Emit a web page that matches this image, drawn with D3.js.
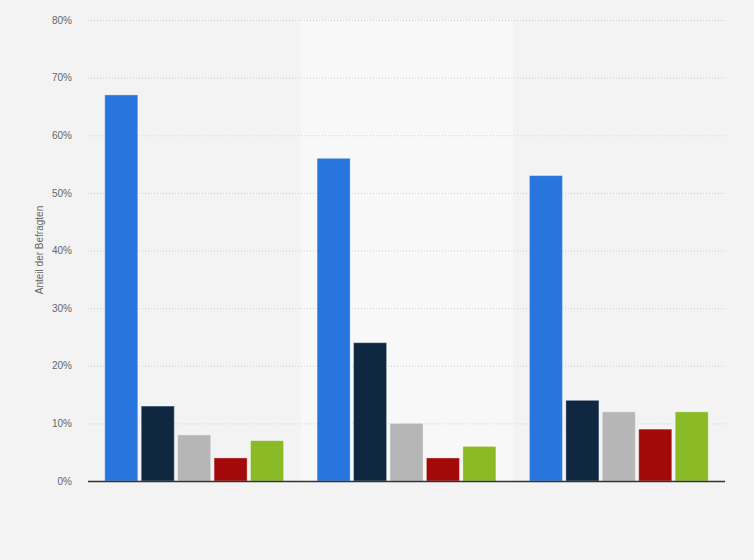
<!DOCTYPE html>
<html><head><meta charset="utf-8">
<script src="https://cdn.jsdelivr.net/npm/d3@7"></script>
<style>body{margin:0;background:#f3f3f3;}svg{display:block;font-family:"Liberation Sans",Arial,sans-serif;}</style>
</head><body>
<svg id="c" width="754" height="560"></svg>
<script>
const groups = ["G1", "G2", "G3"];
const seriesNames = ["S1", "S2", "S3", "S4", "S5"];
const seriesColors = ["#2876dd", "#0f2741", "#b6b6b6", "#a20a0a", "#8aba25"];
const values = [
  [67, 13, 8, 4, 7],
  [56, 24, 10, 4, 6],
  [53, 14, 12, 9, 12]
];
const yTicks = [0, 10, 20, 30, 40, 50, 60, 70, 80];
const yTitle = "Anteil der Befragten";

const svg = d3.select("#c");
const m = {left: 88, right: 29, top: 20, bottom: 79};
const W = 754, H = 560;
const iw = W - m.left - m.right, ih = H - m.top - m.bottom;

svg.append("rect").attr("width", W).attr("height", H).attr("fill", "#f3f3f3");
const g = svg.append("g").attr("transform", `translate(${m.left},${m.top})`);

const x0 = d3.scaleBand().domain(groups).range([0, iw]).paddingInner(0).paddingOuter(0);
const x1 = d3.scaleBand().domain(seriesNames).range([0, x0.bandwidth()]).paddingInner(0.093).paddingOuter(0.46);
const y = d3.scaleLinear().domain([0, 80]).range([ih, 0]);

// alternating band
g.append("rect").attr("x", x0(groups[1])).attr("y", 0)
  .attr("width", x0.bandwidth()).attr("height", ih).attr("fill", "#f8f8f8");

// grid
const yAxis = d3.axisLeft(y).tickValues(yTicks).tickSize(-iw).tickFormat(d => d + "%").tickPadding(16);
const ya = g.append("g").call(yAxis);
ya.select(".domain").remove();
ya.selectAll(".tick line").attr("stroke", "#cfcfcf").attr("stroke-dasharray", "1,2").attr("stroke-width", 1);
ya.selectAll(".tick text").attr("fill", "#666").attr("font-size", 10);
ya.selectAll(".tick").filter(d => d === 0).select("line").remove();

// bars
const gg = g.selectAll(".grp").data(values).join("g")
  .attr("transform", (d, i) => `translate(${x0(groups[i])},0)`);
gg.selectAll("rect").data(d => d).join("rect")
  .attr("x", (d, i) => x1(seriesNames[i]))
  .attr("y", d => y(d))
  .attr("width", x1.bandwidth())
  .attr("height", d => ih - y(d))
  .attr("fill", (d, i) => seriesColors[i])
  .attr("stroke", "rgba(255,255,255,0.35)").attr("stroke-width", 1);

// baseline
g.append("line").attr("x1", 0).attr("x2", iw).attr("y1", ih + 0.5).attr("y2", ih + 0.5)
  .attr("stroke", "#333").attr("stroke-width", 1.3);

// y title
svg.append("text").attr("transform", `translate(43,250) rotate(-90)`)
  .attr("text-anchor", "middle").attr("fill", "#666").attr("font-size", 10).text(yTitle);
</script>
</body></html>
